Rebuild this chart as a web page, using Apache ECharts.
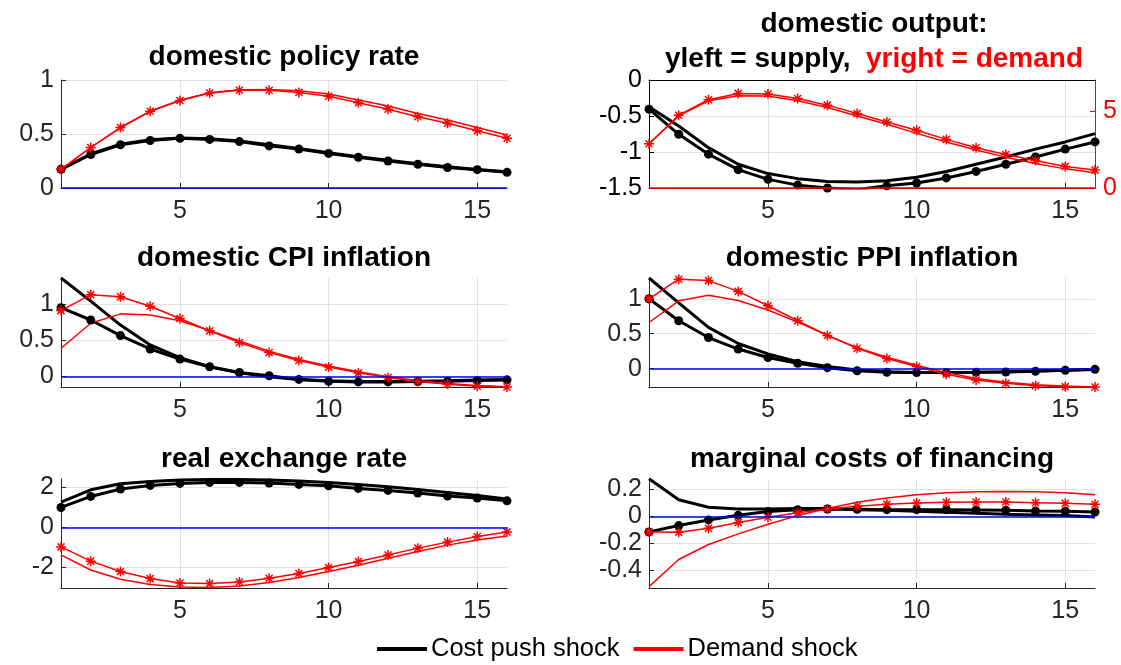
<!DOCTYPE html>
<html><head><meta charset="utf-8">
<script src="https://cdn.jsdelivr.net/npm/echarts@6/dist/echarts.min.js"></script>
<style>html,body{margin:0;padding:0;background:#fff}#chart{width:1121px;height:665px}</style>
</head><body><div id="chart"></div>
<script>
// ---------- data ----------
const periods = [1,2,3,4,5,6,7,8,9,10,11,12,13,14,15,16];
const xTickValues = [5,10,15];

const titles = ['domestic policy rate','domestic output:','domestic CPI inflation','domestic PPI inflation','real exchange rate','marginal costs of financing'];
const legendNames = ['Cost push shock','Demand shock'];

// plain line (A) and marker line (B) for each shock
const policyCostA = [0.176,0.315,0.405,0.446,0.463,0.455,0.435,0.400,0.365,0.326,0.290,0.256,0.225,0.196,0.172,0.150];
const policyCostB = [0.173,0.310,0.400,0.440,0.460,0.450,0.430,0.390,0.360,0.320,0.285,0.250,0.220,0.190,0.170,0.145];
const policyDemA  = [0.173,0.375,0.560,0.710,0.812,0.882,0.910,0.913,0.900,0.870,0.815,0.760,0.690,0.630,0.560,0.490];
const policyDemB  = [0.173,0.375,0.560,0.710,0.810,0.880,0.905,0.905,0.885,0.850,0.790,0.730,0.660,0.600,0.530,0.460];

const outputCostA = [-0.373,-0.640,-0.940,-1.170,-1.300,-1.370,-1.410,-1.416,-1.400,-1.350,-1.270,-1.170,-1.070,-0.960,-0.860,-0.745];
const outputCostB = [-0.405,-0.755,-1.030,-1.245,-1.380,-1.460,-1.500,-1.520,-1.470,-1.430,-1.360,-1.270,-1.170,-1.070,-0.960,-0.860];
const outputDemA  = [2.87,4.67,5.65,5.98,5.96,5.65,5.22,4.67,4.13,3.54,2.98,2.46,2.00,1.59,1.24,0.99];
const outputDemB  = [2.87,4.72,5.72,6.13,6.09,5.80,5.37,4.83,4.28,3.74,3.15,2.61,2.17,1.78,1.40,1.16];

const cpiCostA = [1.360,1.040,0.710,0.435,0.260,0.135,0.050,-0.005,-0.040,-0.060,-0.070,-0.070,-0.065,-0.060,-0.050,-0.046];
const cpiCostB = [0.950,0.780,0.565,0.380,0.240,0.135,0.055,0.010,-0.040,-0.065,-0.075,-0.075,-0.070,-0.065,-0.055,-0.046];
const cpiDemA  = [0.390,0.735,0.865,0.850,0.770,0.635,0.490,0.350,0.235,0.145,0.065,-0.005,-0.055,-0.097,-0.125,-0.143];
const cpiDemB  = [0.910,1.130,1.100,0.970,0.800,0.630,0.470,0.330,0.220,0.130,0.050,-0.014,-0.070,-0.106,-0.134,-0.145];

const ppiCostA = [1.297,0.940,0.590,0.360,0.210,0.100,0.030,-0.020,-0.045,-0.057,-0.057,-0.053,-0.045,-0.033,-0.024,-0.014];
const ppiCostB = [1.000,0.685,0.445,0.280,0.160,0.077,0.014,-0.030,-0.053,-0.057,-0.057,-0.053,-0.048,-0.038,-0.024,-0.010];
const ppiDemA  = [0.660,0.970,1.050,0.975,0.840,0.665,0.475,0.300,0.163,0.048,-0.057,-0.140,-0.196,-0.230,-0.249,-0.263];
const ppiDemB  = [1.000,1.280,1.260,1.105,0.900,0.685,0.475,0.290,0.145,0.030,-0.080,-0.163,-0.210,-0.244,-0.258,-0.263];

const rerCostA = [1.27,1.88,2.18,2.30,2.37,2.40,2.40,2.37,2.32,2.25,2.15,2.03,1.90,1.75,1.60,1.42];
const rerCostB = [1.00,1.55,1.92,2.10,2.20,2.25,2.25,2.22,2.15,2.08,1.95,1.85,1.72,1.57,1.47,1.33];
const rerDemA  = [-1.37,-2.12,-2.58,-2.85,-2.97,-3.00,-2.92,-2.75,-2.50,-2.20,-1.88,-1.53,-1.20,-0.88,-0.62,-0.43];
const rerDemB  = [-0.97,-1.68,-2.20,-2.55,-2.77,-2.80,-2.72,-2.53,-2.30,-2.00,-1.70,-1.37,-1.03,-0.73,-0.45,-0.22];

const mcCostA = [0.279,0.123,0.067,0.054,0.054,0.057,0.057,0.049,0.044,0.037,0.030,0.022,0.015,0.010,0.005,-0.005];
const mcCostB = [-0.116,-0.069,-0.027,0.007,0.035,0.049,0.054,0.052,0.049,0.049,0.049,0.047,0.044,0.040,0.037,0.032];
const mcDemA  = [-0.523,-0.321,-0.210,-0.131,-0.059,0.005,0.057,0.104,0.136,0.160,0.175,0.183,0.185,0.183,0.175,0.160];
const mcDemB  = [-0.116,-0.119,-0.089,-0.047,-0.007,0.027,0.054,0.074,0.089,0.099,0.104,0.106,0.106,0.101,0.096,0.089];

const yTickValues = [[0,0.5,1],[-1.5,-1,-0.5,0],[0,0.5,1],[0,0.5,1],[-2,0,2],[-0.4,-0.2,0,0.2]];
const yRanges = [[0,1],[-1.5,0],[-0.145,1.36],[-0.263,1.297],[-3.02,2.42],[-0.533,0.277]];
const yRightTicks = [0,5];
const yRightRange = [0,7];

// ---------- layout / style ----------
const FONT = '"Liberation Sans", Arial, Helvetica, sans-serif';
const AX = '#262626', GRIDC = '#e2e2e2';
const colLeft = [61, 649], colW = 446;
const rowTop = [80, 278, 479], rowH = [108, 109, 109];
const titleCenterY = [57, 258.5, 459];
const STAR = 'path://M8.5,0 L11.5,0 L11.5,20 L8.5,20 Z M0,8.5 L20,8.5 L20,11.5 L0,11.5 Z M1.9,4.0 L4.0,1.9 L18.1,16.0 L16.0,18.1 Z M16.0,1.9 L18.1,4.0 L4.0,18.1 L1.9,16.0 Z';

const panelData = [
  [policyCostA, policyCostB, policyDemA, policyDemB],
  [outputCostA, outputCostB, outputDemA, outputDemB],
  [cpiCostA, cpiCostB, cpiDemA, cpiDemB],
  [ppiCostA, ppiCostB, ppiDemA, ppiDemB],
  [rerCostA, rerCostB, rerDemA, rerDemB],
  [mcCostA, mcCostB, mcDemA, mcDemB]
];
const pairs = arr => periods.map((p, i) => [p, arr[i]]);

const grid = [], xAxis = [], yAxis = [], series = [], title = [];
const tickLabel = {fontSize: 25, color: AX, fontFamily: FONT};

panelData.forEach((d, i) => {
  const col = i % 2, row = Math.floor(i / 2);
  grid.push({left: colLeft[col], top: rowTop[row], width: colW, height: rowH[row]});
  xAxis.push({
    type: 'value', gridIndex: i, min: 1, max: 16,
    axisLine: {show: true, onZero: false, lineStyle: {color: AX, width: 1}},
    axisTick: {show: true, inside: true, length: 5, customValues: xTickValues, lineStyle: {color: AX}},
    axisLabel: Object.assign({customValues: xTickValues, margin: 11}, tickLabel),
    splitLine: {show: true, lineStyle: {color: GRIDC, width: 1}}
  });
  const leftColor = (i === 1) ? '#000' : AX;
  yAxis.push({
    type: 'value', gridIndex: i, min: yRanges[i][0], max: yRanges[i][1],
    axisLine: {show: true, onZero: false, lineStyle: {color: leftColor, width: 1}},
    axisTick: {show: true, inside: true, length: 5, customValues: yTickValues[i], lineStyle: {color: leftColor}},
    axisLabel: Object.assign({}, tickLabel, {customValues: yTickValues[i], margin: 7, color: leftColor}),
    splitLine: {show: true, lineStyle: {color: GRIDC, width: 1}}
  });
});

// extra axes for the dual-axis panel (index 1)
const topAxisIndex = xAxis.length;
xAxis.push({type: 'value', gridIndex: 1, position: 'top', min: 1, max: 16,
  axisLine: {show: true, onZero: false, lineStyle: {color: '#000', width: 1.2}},
  axisTick: {show: false}, axisLabel: {show: false}, splitLine: {show: false}});
const rightAxisIndex = yAxis.length;
yAxis.push({type: 'value', gridIndex: 1, position: 'right', min: yRightRange[0], max: yRightRange[1],
  axisLine: {show: true, onZero: false, lineStyle: {color: '#ff0000', width: 1}},
  axisTick: {show: true, inside: true, length: 5, customValues: yRightTicks, lineStyle: {color: '#ff0000'}},
  axisLabel: Object.assign({}, tickLabel, {customValues: yRightTicks, margin: 8, color: '#ff0000'}),
  splitLine: {show: false}});

panelData.forEach((d, i) => {
  const demY = (i === 1) ? rightAxisIndex : i;
  const base = {type: 'line', xAxisIndex: i, animation: false, silent: true};
  series.push(Object.assign({}, base, {name: legendNames[0], yAxisIndex: i, data: pairs(d[0]),
    symbol: 'none', lineStyle: {color: '#000', width: 3}, itemStyle: {color: '#000'}}));
  series.push(Object.assign({}, base, {name: legendNames[0] + ' ', yAxisIndex: i, data: pairs(d[1]),
    symbol: 'circle', symbolSize: 9, lineStyle: {color: '#000', width: 3}, itemStyle: {color: '#000'}}));
  series.push(Object.assign({}, base, {name: legendNames[1], yAxisIndex: demY, data: pairs(d[2]),
    symbol: 'none', lineStyle: {color: '#ff0000', width: 1.5}, itemStyle: {color: '#ff0000'}}));
  series.push(Object.assign({}, base, {name: legendNames[1] + ' ', yAxisIndex: demY, data: pairs(d[3]),
    symbol: STAR, symbolSize: 10, lineStyle: {color: '#ff0000', width: 1.5}, itemStyle: {color: '#ff0000'},
    markLine: {silent: true, symbol: 'none', animation: false, label: {show: false},
      lineStyle: {color: i === 1 ? '#ff0000' : '#0000ff', type: 'solid', width: 1.5},
      data: [{yAxis: 0}]}}));
});

// titles
panelData.forEach((d, i) => {
  const col = i % 2, row = Math.floor(i / 2);
  const cx = colLeft[col] + colW / 2;
  if (i === 1) {
    title.push({left: cx + 2, top: 6.5, textAlign: 'center', padding: 0,
      text: '{k|' + titles[1] + '}\n{k|yleft = supply,  }{r|yright = demand}',
      textStyle: {rich: {
        k: {fontSize: 28, fontWeight: 'bold', color: '#000', fontFamily: FONT, lineHeight: 35},
        r: {fontSize: 28, fontWeight: 'bold', color: '#ff0000', fontFamily: FONT, lineHeight: 35}
      }}});
  } else {
    title.push({left: cx, top: titleCenterY[row] - 16, textAlign: 'center', padding: 0, text: titles[i],
      textStyle: {fontSize: 28, fontWeight: 'bold', color: '#000', fontFamily: FONT, lineHeight: 32}});
  }
});

const chart = echarts.init(document.getElementById('chart'), null, {renderer: 'canvas'});
chart.setOption({
  animation: false,
  backgroundColor: '#fff',
  title: title,
  grid: grid,
  xAxis: xAxis,
  yAxis: yAxis,
  legend: {data: legendNames, left: 377, top: 636, padding: 0, icon: 'rect', itemWidth: 50, itemHeight: 4,
    itemGap: 14, selectedMode: false,
    textStyle: {fontSize: 25.5, color: '#000', fontFamily: FONT, padding: [0, 0, 0, -1]}},
  series: series
});
</script></body></html>
